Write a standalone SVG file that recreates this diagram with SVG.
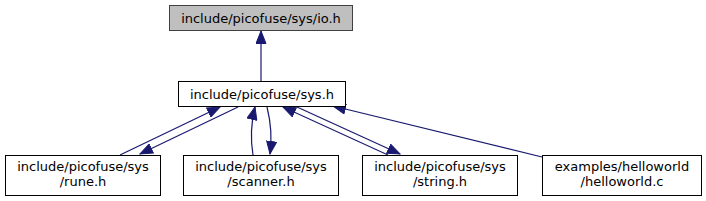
<svg xmlns="http://www.w3.org/2000/svg" width="706" height="201" viewBox="0 0 706 201">
<style>
.node rect{fill:#ffffff;stroke:#000000;stroke-width:1}
.node.top rect{fill:#bfbfbf;stroke:#404040}
.node text{font-family:"DejaVu Sans",sans-serif;font-size:13px;fill:#000000;text-anchor:middle}
.edges path{fill:none;stroke:#191970;stroke-width:1.2;marker-end:url(#arr)}
</style>
<defs>
<marker id="arr" markerUnits="userSpaceOnUse" markerWidth="14" markerHeight="11" refX="13" refY="5.5" orient="auto" viewBox="0 0 14 11">
<path d="M0.5,0.5 L13,5.5 L0.5,10.5 z" fill="#191970" stroke="#191970" stroke-width="1"/>
</marker>
</defs>
<g class="edges">
<path d="M261,81 L261,31"/>
<path d="M120,155 L220,107"/>
<path d="M238,107 L140,154"/>
<path d="M253,155 Q249,131 255,107"/>
<path d="M267,107 Q273,131 270,154"/>
<path d="M388,155 L283,107"/>
<path d="M297,107 L400,154"/>
<path d="M542,157 L333,106"/>
</g>
<g id="node_io" class="node top">
<rect x="169.5" y="5.5" width="183" height="25"/>
<text x="261" y="22.5">include/picofuse/sys/io.h</text>
</g>
<g id="node_sys" class="node">
<rect x="178.5" y="81.5" width="167" height="25"/>
<text x="262" y="98.5">include/picofuse/sys.h</text>
</g>
<g id="node_rune" class="node">
<rect x="5.5" y="155.5" width="155" height="40"/>
<text x="83" y="171">include/picofuse/sys</text>
<text x="83" y="186">/rune.h</text>
</g>
<g id="node_scanner" class="node">
<rect x="183.5" y="155.5" width="155" height="40"/>
<text x="261" y="171">include/picofuse/sys</text>
<text x="261" y="186">/scanner.h</text>
</g>
<g id="node_string" class="node">
<rect x="362.5" y="155.5" width="155" height="40"/>
<text x="440" y="171">include/picofuse/sys</text>
<text x="440" y="186">/string.h</text>
</g>
<g id="node_helloworld" class="node">
<rect x="542.5" y="155.5" width="159" height="40"/>
<text x="622" y="171">examples/helloworld</text>
<text x="622" y="186">/helloworld.c</text>
</g>
</svg>
